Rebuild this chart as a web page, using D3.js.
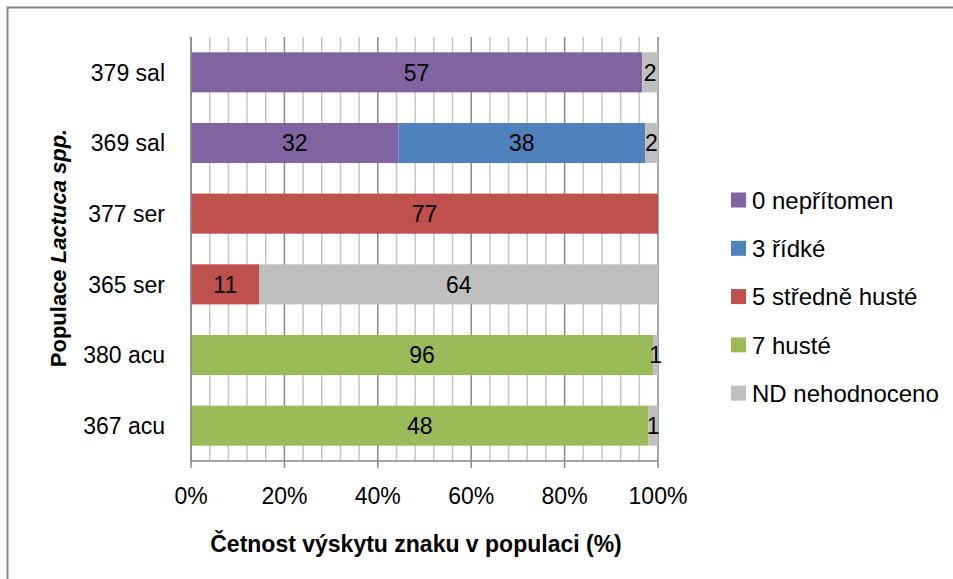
<!DOCTYPE html>
<html lang="cs">
<head>
<meta charset="UTF-8">
<title>Četnost výskytu znaku</title>
<script src="https://d3js.org/d3.v7.min.js"></script>
<style>
  body { margin: 0; background: #fff; }
  text { font-family: "Liberation Sans", Arial, sans-serif; fill: #000; }
  .tick-label, .cat-label, .value-label { font-size: 23px; }
  .legend-label { font-size: 24px; }
  .axis-title { font-size: 23px; font-weight: bold; }
  .y-title { font-size: 22px; }
</style>
</head>
<body>
<svg width="953" height="579"></svg>
<script>
  // categories, top to bottom
  const categories = ["379 sal", "369 sal", "377 ser", "365 ser", "380 acu", "367 acu"];

  // series (counts per population)
  const seriesNames = ["0 nepřítomen", "3 řídké", "5 středně husté", "7 husté", "ND nehodnoceno"];
  const s0 = [57, 32, 0, 0, 0, 0];
  const s3 = [0, 38, 0, 0, 0, 0];
  const s5 = [0, 0, 77, 11, 0, 0];
  const s7 = [0, 0, 0, 0, 96, 48];
  const sND = [2, 2, 0, 64, 1, 1];
  const colors = ["#8064a2", "#4f81bd", "#c0504d", "#9bbb59", "#bfbfbf"];

  const tickValues = [0, 0.2, 0.4, 0.6, 0.8, 1];

  const svg = d3.select("svg");

  // outer chart border
  svg.append("rect")
    .attr("x", 7.5).attr("y", 7.5)
    .attr("width", 960).attr("height", 600)
    .attr("fill", "none")
    .attr("stroke", "#878787")
    .attr("stroke-width", 2);

  const plotL = 191, plotR = 658, plotT = 37, plotB = 461;

  const x = d3.scaleLinear().domain([0, 1]).range([plotL, plotR]);
  const y = d3.scaleBand().domain(categories).range([plotT, plotB])
    .paddingInner(0.433).paddingOuter(0.2165);

  // gridlines: minor every 4 %, major every 20 %
  const minor = d3.range(0, 26).map(i => i * 0.04);
  svg.append("g").selectAll("line")
    .data(minor.filter(v => Math.round(v * 100) % 20 !== 0))
    .enter().append("line")
    .attr("x1", d => x(d)).attr("x2", d => x(d))
    .attr("y1", plotT).attr("y2", plotB)
    .attr("stroke", "#c6c6c6").attr("stroke-width", 1.5);

  svg.append("g").selectAll("line")
    .data(tickValues)
    .enter().append("line")
    .attr("x1", d => x(d)).attr("x2", d => x(d))
    .attr("y1", plotT).attr("y2", plotB + 7)
    .attr("stroke", "#8a8a8a").attr("stroke-width", 1.5);

  // bottom axis line
  svg.append("line")
    .attr("x1", plotL).attr("x2", plotR)
    .attr("y1", plotB).attr("y2", plotB)
    .attr("stroke", "#8a8a8a").attr("stroke-width", 1.5);

  // stacked data, normalised per row
  const rows = categories.map((c, i) => {
    const vals = [s0[i], s3[i], s5[i], s7[i], sND[i]];
    const total = d3.sum(vals);
    let acc = 0;
    return vals.map((v, k) => {
      const seg = { cat: c, value: v, k: k, x0: acc / total, x1: (acc + v) / total };
      acc += v;
      return seg;
    });
  });
  const segments = rows.flat().filter(d => d.value > 0);

  svg.append("g").selectAll("rect")
    .data(segments)
    .enter().append("rect")
    .attr("x", d => x(d.x0))
    .attr("y", d => y(d.cat))
    .attr("width", d => x(d.x1) - x(d.x0))
    .attr("height", y.bandwidth())
    .attr("fill", d => colors[d.k]);

  svg.append("g").selectAll("text")
    .data(segments)
    .enter().append("text")
    .attr("class", "value-label")
    .attr("x", d => (x(d.x0) + x(d.x1)) / 2)
    .attr("y", d => y(d.cat) + y.bandwidth() / 2)
    .attr("dy", "0.36em")
    .attr("text-anchor", "middle")
    .text(d => d.value);

  // left axis line
  svg.append("line")
    .attr("x1", plotL).attr("x2", plotL)
    .attr("y1", plotT).attr("y2", plotB)
    .attr("stroke", "#8a8a8a").attr("stroke-width", 1.5);

  // category labels
  svg.append("g").selectAll("text")
    .data(categories)
    .enter().append("text")
    .attr("class", "cat-label")
    .attr("x", 165)
    .attr("y", d => y(d) + y.bandwidth() / 2)
    .attr("dy", "0.36em")
    .attr("text-anchor", "end")
    .text(d => d);

  // x tick labels
  svg.append("g").selectAll("text")
    .data(tickValues)
    .enter().append("text")
    .attr("class", "tick-label")
    .attr("x", d => x(d))
    .attr("y", 504)
    .attr("text-anchor", "middle")
    .text(d => d3.format(".0%")(d));

  // axis titles
  svg.append("text")
    .attr("class", "axis-title")
    .attr("x", 416).attr("y", 552)
    .attr("text-anchor", "middle")
    .text("Četnost výskytu znaku v populaci (%)");

  const yt = svg.append("text")
    .attr("class", "axis-title y-title")
    .attr("transform", "translate(66,248) rotate(-90)")
    .attr("text-anchor", "middle");
  yt.append("tspan").text("Populace ");
  yt.append("tspan").style("font-style", "italic").text("Lactuca spp.");

  // legend
  const legend = svg.append("g").selectAll("g")
    .data(seriesNames)
    .enter().append("g")
    .attr("transform", (d, i) => `translate(731,${200 + i * 48.3})`);
  legend.append("rect")
    .attr("x", 0).attr("y", -7.5)
    .attr("width", 15).attr("height", 15)
    .attr("fill", (d, i) => colors[i]);
  legend.append("text")
    .attr("class", "legend-label")
    .attr("x", 21).attr("y", 0)
    .attr("dy", "0.36em")
    .text(d => d);
</script>
</body>
</html>
